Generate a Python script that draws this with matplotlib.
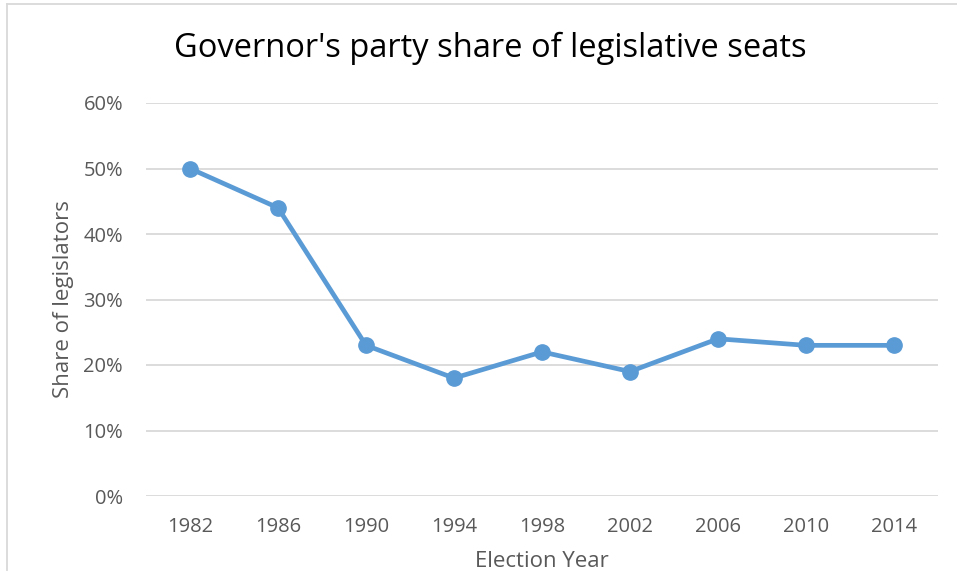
import matplotlib.pyplot as plt
from matplotlib.lines import Line2D
from matplotlib.ticker import PercentFormatter

years = ['1982', '1986', '1990', '1994', '1998', '2002', '2006', '2010', '2014']
share = [50, 44, 23, 18, 22, 19, 24, 23, 23]

plt.rcParams['font.family'] = ['Open Sans', 'DejaVu Sans']

fig = plt.figure(figsize=(9.57, 5.75), dpi=100)
ax = fig.add_axes([146 / 957, 1 - 496 / 575, 792 / 957, 393 / 575])

x = range(len(years))
ax.plot(x, share, color='#5B9BD5', lw=3.4, marker='o', ms=11,
        solid_capstyle='round', solid_joinstyle='round', zorder=3)

ax.set_xlim(-0.5, len(years) - 0.5)
ax.set_ylim(0, 60)
ax.set_yticks(range(0, 61, 10))
ax.yaxis.set_major_formatter(PercentFormatter(decimals=0))
ax.set_xticks(list(x))
ax.set_xticklabels(years)

ax.grid(axis='y', color='#d9d9d9', lw=1.3)
ax.set_axisbelow(True)
for s in ax.spines.values():
    s.set_visible(False)
ax.tick_params(length=0, labelsize=14.5, colors='#595959', pad=15)
ax.tick_params(axis='y', pad=16.5)

ax.set_xlabel('Election Year', fontsize=16, color='#595959', labelpad=10)
ax.set_ylabel('Share of legislators', fontsize=16, color='#595959', labelpad=7)

fig.text(490 / 957, 1 - 48 / 575, "Governor's party share of legislative seats",
         ha='center', va='center', fontsize=23.5, color='black')

# chart frame (top and left edges only)
fig.add_artist(Line2D([7 / 957, 1], [1 - 4 / 575] * 2, color='#d9d9d9', lw=1.3))
fig.add_artist(Line2D([7 / 957] * 2, [1 - 4 / 575, 0.008], color='#d9d9d9', lw=1.3))

fig.savefig('out.png', dpi=100)
